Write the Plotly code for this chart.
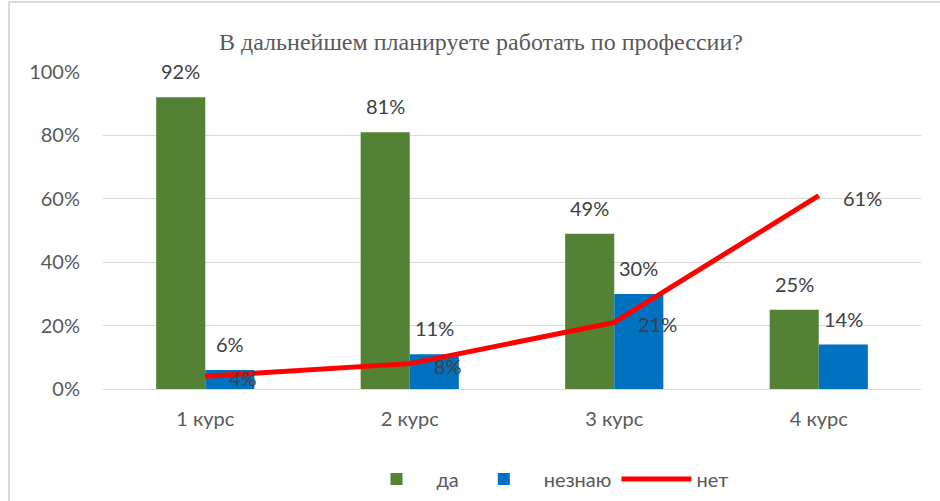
import plotly.graph_objects as go

categories = ["1 курс", "2 курс", "3 курс", "4 курс"]
da = [0.92, 0.81, 0.49, 0.25]
neznayu = [0.06, 0.11, 0.30, 0.14]
net = [0.04, 0.08, 0.21, 0.61]
tick_vals = [0, 0.2, 0.4, 0.6, 0.8, 1.0]
tick_text = ["0%", "20%", "40%", "60%", "80%", "100%"]
title_text = "В дальнейшем планируете работать по профессии?"

W, H = 940, 501
L, R, T, B = 103, 19, 72, 112
pw, ph = W - L - R, H - T - B

GREEN = "#548235"
BLUE = "#0070C0"
RED = "#FF0000"
TXT = "#595959"
LBL = "#404040"
FONT = "Lato, Noto Sans, sans-serif"

bargap = 0.52
bw = (1 - bargap) / 2

fig = go.Figure()
fig.add_trace(go.Bar(x=list(range(len(categories))), y=da, name="да",
                     marker=dict(color=GREEN, line=dict(width=0))))
fig.add_trace(go.Bar(x=list(range(len(categories))), y=neznayu, name="незнаю",
                     marker=dict(color=BLUE, line=dict(width=0))))
fig.add_trace(go.Scatter(x=list(range(len(categories))), y=net, name="нет",
                         mode="lines", line=dict(color=RED, width=5)))

ann = []
for i in range(len(categories)):
    ann.append(dict(x=i - bw / 2, y=da[i], xref="x", yref="y", text=f"{round(da[i]*100)}%",
                    showarrow=False, yshift=26, yanchor="middle",
                    font=dict(family=FONT, size=20, color=LBL)))
    ann.append(dict(x=i + bw / 2, y=neznayu[i], xref="x", yref="y", text=f"{round(neznayu[i]*100)}%",
                    showarrow=False, yshift=26, yanchor="middle",
                    font=dict(family=FONT, size=20, color=LBL)))
    ann.append(dict(x=i, y=net[i], xref="x", yref="y", text=f"{round(net[i]*100)}%",
                    showarrow=False, xshift=22, yshift=-2, xanchor="left", yanchor="middle",
                    font=dict(family=FONT, size=20, color=LBL)))

# chart frame lines (left and top)
fx = lambda px: (px - L) / pw
fy = lambda py: (H - B - py) / ph
shapes = [
    dict(type="line", xref="paper", yref="paper", x0=fx(9), x1=fx(9), y0=fy(2), y1=fy(H + 5),
         line=dict(color="#d9d9d9", width=2)),
    dict(type="line", xref="paper", yref="paper", x0=fx(9), x1=fx(W + 5), y0=fy(2), y1=fy(2),
         line=dict(color="#d9d9d9", width=2)),
]

fig.update_layout(
    width=W, height=H,
    margin=dict(l=L, r=R, t=T, b=B, autoexpand=False),
    paper_bgcolor="white", plot_bgcolor="white",
    barmode="group", bargap=bargap, bargroupgap=0,
    title=dict(text=title_text, x=481 / W, xanchor="center", y=1 - 42 / H, yanchor="middle",
               yref="container", xref="container",
               font=dict(family="Liberation Serif, Times New Roman, serif", size=24, color=TXT)),
    xaxis=dict(tickmode="array", tickvals=list(range(len(categories))), ticktext=categories,
               range=[-0.5, len(categories) - 0.5], showgrid=False, zeroline=False,
               showline=False, ticks="", tickfont=dict(family=FONT, size=20, color=TXT)),
    yaxis=dict(range=[0, 1], tickmode="array", tickvals=tick_vals, ticktext=tick_text,
               showgrid=True, gridcolor="#d9d9d9", gridwidth=1.3, zeroline=True,
               zerolinecolor="#d9d9d9", zerolinewidth=1.3, showline=False, ticks="",
               ticklen=0, tickfont=dict(family=FONT, size=20, color=TXT)),
    legend=dict(orientation="h", x=545 / W, xanchor="center", y=1 - 479 / H, yanchor="middle",
                xref="container", yref="container",
                font=dict(family=FONT, size=20, color=TXT), itemwidth=70,
                bgcolor="rgba(0,0,0,0)"),
    annotations=ann,
    shapes=shapes,
    showlegend=True,
)
fig.update_yaxes(ticklabelstandoff=22)
fig.update_xaxes(ticklabelstandoff=16)

fig.write_html("out.html", config={"displayModeBar": False},
               post_script="document.body.style.margin='0';document.body.style.overflow='hidden';")
